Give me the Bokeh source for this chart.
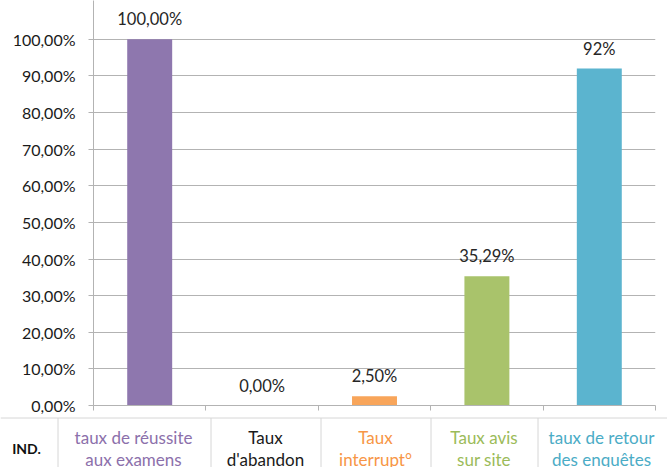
from bokeh.plotting import figure
from bokeh.layouts import column
from bokeh.models import Range1d, FixedTicker, ColumnDataSource
from bokeh.core.properties import value
from bokeh.embed import file_html
from bokeh.resources import INLINE

# ---- data ----
categories = ["taux de réussite aux examens", "Taux d'abandon", "Taux interrupt°",
              "Taux avis sur site", "taux de retour des enquêtes"]
values = [100.0, 0.0, 2.5, 35.29, 92.0]
value_labels = ["100,00%", "0,00%", "2,50%", "35,29%", "92%"]
bar_colors = ["#8e77ae", "#000000", "#f8a55a", "#a9c36b", "#5bb4cf"]
table_line1 = ["taux de réussite", "Taux", "Taux", "Taux avis", "taux de retour"]
table_line2 = ["aux examens", "d'abandon", "interrupt°", "sur site", "des enquêtes"]
table_colors = ["#8c70ab", "#1a1a1a", "#f79646", "#9bbb59", "#4bacc6"]
row_header = "IND."
y_ticks = [0, 10, 20, 30, 40, 50, 60, 70, 80, 90, 100]
y_tick_labels = ["0,00%", "10,00%", "20,00%", "30,00%", "40,00%", "50,00%",
                 "60,00%", "70,00%", "80,00%", "90,00%", "100,00%"]

FONT = "Lato"
W = 667
H1, H2 = 416, 51
p = figure(width=W, height=H1, output_backend="svg", toolbar_location=None,
           x_range=Range1d(0, len(categories)), y_range=Range1d(0, 110.6),
           min_border_left=93, min_border_right=12, min_border_top=0, min_border_bottom=11)
p.outline_line_color = None
p.frame_align = False

xs = [i + 0.5 for i in range(len(categories))]
src = ColumnDataSource(dict(x=xs, top=values, color=bar_colors, lab=value_labels))
p.vbar(x="x", top="top", bottom=0, width=0.4, fill_color="color", line_color=None, source=src)
p.text(x="x", y="top", text="lab", source=src, text_align="center", text_baseline="alphabetic",
       y_offset=-20, text_font=value(FONT), text_font_size="16.5px", text_color="#262626")

grey = "#b3b3b3"
p.xgrid.visible = False
p.ygrid.ticker = FixedTicker(ticks=y_ticks)
p.ygrid.grid_line_color = grey
p.yaxis.ticker = FixedTicker(ticks=y_ticks)
p.yaxis.major_label_overrides = {t: l for t, l in zip(y_ticks, y_tick_labels)}
p.yaxis.minor_tick_line_color = None
p.yaxis.major_tick_out = 5
p.yaxis.major_tick_in = 0
p.yaxis.major_tick_line_color = grey
p.yaxis.axis_line_color = grey
p.yaxis.major_label_standoff = 13
p.yaxis.major_label_text_font = FONT
p.yaxis.major_label_text_font_size = "16px"
p.yaxis.major_label_text_color = "#1a1a1a"

xt = list(range(len(categories) + 1))
p.xaxis.ticker = FixedTicker(ticks=xt)
p.xaxis.major_label_overrides = {t: "" for t in xt}
p.xaxis.major_label_text_font_size = "1px"
p.xaxis.major_label_standoff = 0
p.xaxis.minor_tick_line_color = None
p.xaxis.major_tick_out = 5
p.xaxis.major_tick_in = 0
p.xaxis.major_tick_line_color = grey
p.xaxis.axis_line_color = grey

# ---- table under the chart (pixel layout) ----
t = figure(width=W, height=H2, output_backend="svg", toolbar_location=None,
           x_range=Range1d(0, W), y_range=Range1d(H2, 0),
           x_axis_type=None, y_axis_type=None,
           min_border_left=0, min_border_right=0, min_border_top=0, min_border_bottom=0)
t.outline_line_color = None
t.frame_align = False
t.grid.visible = False
line_col = "#d6d6d6"
seps = [57, 210, 320, 430, 537]
t.segment(x0=[0], y0=[1.5], x1=[W], y1=[1.5], line_color=line_col, line_width=1)
t.segment(x0=[s + 0.5 for s in seps], y0=[1.5] * len(seps), x1=[s + 0.5 for s in seps],
          y1=[H2] * len(seps), line_color=line_col, line_width=1)
col_centers = [133, 265, 375, 483.5, 601]
tsrc = ColumnDataSource(dict(x=col_centers, l1=table_line1, l2=table_line2, c=table_colors))
t.text(x="x", y=21, text="l1", source=tsrc, text_align="center", text_baseline="alphabetic",
       text_font=value(FONT), text_font_size="17px", text_color="c")
t.text(x="x", y=43, text="l2", source=tsrc, text_align="center", text_baseline="alphabetic",
       text_font=value(FONT), text_font_size="17px", text_color="c")
t.text(x=[26], y=[32], text=[row_header], text_align="center", text_baseline="alphabetic",
       text_font=value(FONT), text_font_size="14px", text_font_style="bold", text_color="#111111")

layout = column(p, t, spacing=0)
open("out.html", "w").write(file_html(layout, INLINE))
